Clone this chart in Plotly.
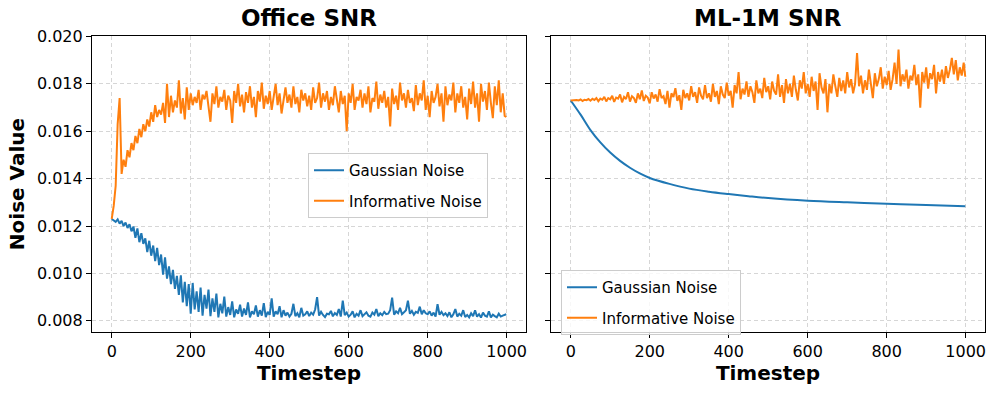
import plotly.graph_objects as go
from plotly.subplots import make_subplots

# timesteps sampled every 5 steps, plus the last one
timesteps = list(range(0, 1000, 5)) + [999]

office_gaussian = [
    0.01230, 0.01225, 0.01218, 0.01228, 0.01210, 0.01222, 0.01200, 0.01215, 0.01192, 0.01208,
    0.01178, 0.01198, 0.01150, 0.01190, 0.01132, 0.01170, 0.01125, 0.01148, 0.01090, 0.01138,
    0.01075, 0.01118, 0.01052, 0.01108, 0.01035, 0.01080, 0.00995, 0.01068, 0.00978, 0.01030,
    0.00955, 0.01015, 0.00935, 0.00990, 0.00910, 0.00992, 0.00878, 0.00965, 0.00862, 0.00955,
    0.00830, 0.00960, 0.00848, 0.00925, 0.00838, 0.00940, 0.00822, 0.00910, 0.00852, 0.00932,
    0.00820, 0.00895, 0.00838, 0.00915, 0.00815, 0.00872, 0.00832, 0.00902, 0.00818, 0.00858,
    0.00825, 0.00882, 0.00815, 0.00848, 0.00830, 0.00868, 0.00818, 0.00852, 0.00825, 0.00878,
    0.00815, 0.00840, 0.00828, 0.00865, 0.00818, 0.00845, 0.00822, 0.00875, 0.00816, 0.00838,
    0.00825, 0.00895, 0.00818, 0.00840, 0.00828, 0.00862, 0.00815, 0.00845, 0.00822, 0.00835,
    0.00818, 0.00830, 0.00872, 0.00820, 0.00832, 0.00815, 0.00855, 0.00822, 0.00828, 0.00840,
    0.00820, 0.00835, 0.00826, 0.00848, 0.00900, 0.00822, 0.00838, 0.00825, 0.00816, 0.00830,
    0.00828, 0.00842, 0.00819, 0.00833, 0.00825, 0.00850, 0.00818, 0.00885, 0.00824, 0.00835,
    0.00818, 0.00826, 0.00840, 0.00815, 0.00830, 0.00822, 0.00845, 0.00820, 0.00828, 0.00836,
    0.00822, 0.00818, 0.00835, 0.00826, 0.00850, 0.00820, 0.00832, 0.00824, 0.00838, 0.00828,
    0.00830, 0.00845, 0.00898, 0.00826, 0.00840, 0.00832, 0.00855, 0.00828, 0.00836, 0.00845,
    0.00885, 0.00830, 0.00842, 0.00826, 0.00838, 0.00834, 0.00860, 0.00828, 0.00845, 0.00832,
    0.00828, 0.00840, 0.00822, 0.00835, 0.00818, 0.00870, 0.00826, 0.00838, 0.00824, 0.00832,
    0.00820, 0.00836, 0.00815, 0.00828, 0.00850, 0.00818, 0.00830, 0.00822, 0.00845, 0.00816,
    0.00825, 0.00815, 0.00832, 0.00820, 0.00845, 0.00818, 0.00828, 0.00814, 0.00835, 0.00822,
    0.00818, 0.00840, 0.00815, 0.00826, 0.00820, 0.00815, 0.00830, 0.00818, 0.00822, 0.00826,
    0.00828,
]

office_informative = [
    0.01230, 0.01285, 0.01370, 0.01630, 0.01740, 0.01420, 0.01480, 0.01450, 0.01520, 0.01490,
    0.01550, 0.01520, 0.01580, 0.01550, 0.01610, 0.01575, 0.01630, 0.01600, 0.01650, 0.01620,
    0.01680, 0.01640, 0.01710, 0.01660, 0.01690, 0.01670, 0.01720, 0.01635, 0.01800, 0.01660,
    0.01750, 0.01680, 0.01730, 0.01700, 0.01815, 0.01675, 0.01740, 0.01650, 0.01785, 0.01690,
    0.01760, 0.01710, 0.01745, 0.01720, 0.01775, 0.01690, 0.01755, 0.01735, 0.01770, 0.01705,
    0.01640, 0.01760, 0.01715, 0.01790, 0.01700, 0.01745, 0.01725, 0.01775, 0.01690, 0.01750,
    0.01730, 0.01635, 0.01770, 0.01720, 0.01800, 0.01705, 0.01755, 0.01680, 0.01765, 0.01720,
    0.01790, 0.01700, 0.01745, 0.01660, 0.01770, 0.01725, 0.01805, 0.01695, 0.01750, 0.01715,
    0.01770, 0.01690, 0.01745, 0.01800, 0.01710, 0.01760, 0.01675, 0.01740, 0.01785, 0.01720,
    0.01755, 0.01700, 0.01790, 0.01715, 0.01745, 0.01680, 0.01775, 0.01730, 0.01760, 0.01705,
    0.01750, 0.01690, 0.01785, 0.01720, 0.01740, 0.01805, 0.01700, 0.01760, 0.01725, 0.01770,
    0.01690, 0.01745, 0.01710, 0.01790, 0.01730, 0.01680, 0.01770, 0.01715, 0.01750, 0.01600,
    0.01760, 0.01720, 0.01800, 0.01690, 0.01745, 0.01730, 0.01775, 0.01700, 0.01760, 0.01715,
    0.01790, 0.01680, 0.01740, 0.01725, 0.01810, 0.01695, 0.01755, 0.01720, 0.01770, 0.01700,
    0.01745, 0.01620, 0.01780, 0.01715, 0.01750, 0.01690, 0.01805, 0.01730, 0.01760, 0.01700,
    0.01775, 0.01720, 0.01740, 0.01685, 0.01795, 0.01710, 0.01760, 0.01730, 0.01815, 0.01690,
    0.01750, 0.01660, 0.01770, 0.01720, 0.01745, 0.01800, 0.01705, 0.01760, 0.01640, 0.01790,
    0.01710, 0.01755, 0.01730, 0.01805, 0.01680, 0.01760, 0.01720, 0.01790, 0.01700, 0.01745,
    0.01650, 0.01780, 0.01715, 0.01810, 0.01700, 0.01760, 0.01640, 0.01800, 0.01725, 0.01770,
    0.01690, 0.01805, 0.01720, 0.01655, 0.01790, 0.01710, 0.01815, 0.01680, 0.01760, 0.01665,
    0.01660,
]

ml_informative = [
    0.01730, 0.01731, 0.01729, 0.01732, 0.01730, 0.01734, 0.01728, 0.01733, 0.01731, 0.01736,
    0.01729, 0.01737, 0.01732, 0.01740, 0.01727, 0.01738, 0.01733, 0.01745, 0.01726, 0.01740,
    0.01735, 0.01750, 0.01724, 0.01742, 0.01738, 0.01755, 0.01722, 0.01745, 0.01736, 0.01765,
    0.01725, 0.01748, 0.01740, 0.01720, 0.01760, 0.01735, 0.01772, 0.01728, 0.01750, 0.01742,
    0.01718, 0.01765, 0.01738, 0.01755, 0.01725, 0.01778, 0.01740, 0.01748, 0.01715, 0.01770,
    0.01700, 0.01760, 0.01745, 0.01782, 0.01728, 0.01752, 0.01690, 0.01775, 0.01740, 0.01760,
    0.01730, 0.01790, 0.01745, 0.01765, 0.01720, 0.01785, 0.01750, 0.01735, 0.01795, 0.01740,
    0.01760, 0.01725, 0.01800, 0.01745, 0.01770, 0.01715, 0.01790, 0.01755, 0.01740, 0.01805,
    0.01750, 0.01770, 0.01700, 0.01795, 0.01760, 0.01850, 0.01735, 0.01780, 0.01755, 0.01810,
    0.01745, 0.01790, 0.01765, 0.01720, 0.01815, 0.01760, 0.01780, 0.01740, 0.01825, 0.01765,
    0.01790, 0.01735, 0.01810, 0.01770, 0.01755, 0.01840, 0.01745, 0.01795, 0.01720, 0.01820,
    0.01760, 0.01800, 0.01745, 0.01835, 0.01775, 0.01730, 0.01815, 0.01780, 0.01850, 0.01760,
    0.01800, 0.01745, 0.01830, 0.01770, 0.01810, 0.01690, 0.01845, 0.01785, 0.01760, 0.01820,
    0.01680, 0.01800, 0.01760, 0.01840, 0.01790, 0.01745, 0.01825, 0.01770, 0.01815, 0.01760,
    0.01850, 0.01785, 0.01820, 0.01760, 0.01800, 0.01930, 0.01790, 0.01835, 0.01760, 0.01815,
    0.01775, 0.01860, 0.01800, 0.01740, 0.01845, 0.01790, 0.01820, 0.01870, 0.01780, 0.01830,
    0.01795, 0.01855, 0.01775, 0.01820, 0.01890, 0.01800, 0.01945, 0.01790, 0.01840, 0.01810,
    0.01860, 0.01780, 0.01835, 0.01815, 0.01880, 0.01795, 0.01840, 0.01700, 0.01850, 0.01805,
    0.01870, 0.01780, 0.01845, 0.01820, 0.01880, 0.01760, 0.01850, 0.01810, 0.01860, 0.01800,
    0.01875, 0.01825, 0.01860, 0.01910, 0.01840, 0.01900, 0.01815, 0.01870, 0.01835, 0.01890,
    0.01830,
]

# the ML-1M gaussian curve is smooth, so fewer read-off points are enough
ml_gaussian_steps = [0, 25, 50, 75, 100, 125, 150, 175, 200, 250, 300, 350, 400,
                     450, 500, 600, 700, 800, 900, 999]
ml_gaussian = [0.01730, 0.01670, 0.01605, 0.01553, 0.01510, 0.01475, 0.01446, 0.01422,
               0.01403, 0.01378, 0.01358, 0.01345, 0.01335, 0.01326, 0.01318, 0.01307,
               0.01300, 0.01294, 0.01289, 0.01284]

titles = ["Office SNR", "ML-1M SNR"]
x_ticks = [0, 200, 400, 600, 800, 1000]
y_ticks = [0.008, 0.010, 0.012, 0.014, 0.016, 0.018, 0.020]

BLUE = "#1f77b4"
ORANGE = "#ff7f0e"
FONT = "DejaVu Sans"
W, H = 997, 394

fig = make_subplots(rows=1, cols=2, shared_yaxes=True)

fig.add_trace(go.Scatter(x=timesteps, y=office_gaussian, mode="lines", name="Gaussian Noise",
                         line=dict(color=BLUE, width=2), legend="legend", legendgroup="g1"), row=1, col=1)
fig.add_trace(go.Scatter(x=timesteps, y=office_informative, mode="lines", name="Informative Noise",
                         line=dict(color=ORANGE, width=2), legend="legend", legendgroup="i1"), row=1, col=1)
fig.add_trace(go.Scatter(x=ml_gaussian_steps, y=ml_gaussian, mode="lines", name="Gaussian Noise",
                         line=dict(color=BLUE, width=2, shape="spline"), legend="legend2",
                         legendgroup="g2"), row=1, col=2)
fig.add_trace(go.Scatter(x=timesteps, y=ml_informative, mode="lines", name="Informative Noise",
                         line=dict(color=ORANGE, width=2), legend="legend2", legendgroup="i2"), row=1, col=2)

axis_common = dict(showline=True, linecolor="black", linewidth=1.2, mirror=True,
                   ticks="outside", ticklen=5, tickwidth=1, tickcolor="black",
                   showgrid=True, gridcolor="#d6d6d6", griddash="4px,3px", gridwidth=1,
                   zeroline=False, automargin=False,
                   tickfont=dict(family=FONT, size=16, color="black"))

x_domains = [[92 / W, 526 / W], [551 / W, 985 / W]]
y_domain = [1 - 332 / H, 1 - 36 / H]

for i in range(2):
    fig.update_xaxes(axis_common, range=[-49.95, 1048.95], tickvals=x_ticks,
                     domain=x_domains[i], row=1, col=i + 1,
                     title=dict(text="<b>Timestep</b>", font=dict(family=FONT, size=20, color="black"),
                                standoff=2))
    fig.update_yaxes(axis_common, range=[0.00753, 0.02002], tickvals=y_ticks,
                     tickformat=".3f", domain=y_domain, row=1, col=i + 1)

fig.update_yaxes(title=dict(text="<b>Noise Value</b>", font=dict(family=FONT, size=20, color="black"),
                            standoff=6), row=1, col=1)
fig.update_yaxes(showticklabels=False, row=1, col=2)

for i, t in enumerate(titles):
    fig.add_annotation(text="<b>%s</b>" % t, x=sum(x_domains[i]) / 2, y=1 - 18 / H,
                       xref="paper", yref="paper", showarrow=False, xanchor="center", yanchor="middle",
                       font=dict(family=FONT, size=23, color="black"))

legend_style = dict(font=dict(family=FONT, size=15, color="black"), bgcolor="rgba(255,255,255,0.8)",
                    bordercolor="#cccccc", borderwidth=1, xanchor="left", yanchor="top",
                    itemwidth=30, tracegroupgap=8, entrywidth=170, entrywidthmode="pixels")

fig.update_layout(
    width=W, height=H,
    margin=dict(l=0, r=0, t=0, b=0),
    plot_bgcolor="white", paper_bgcolor="white",
    font=dict(family=FONT, color="black"),
    legend=dict(legend_style, x=308 / W, y=1 - 153 / H),
    legend2=dict(legend_style, x=561 / W, y=1 - 270 / H),
)

# drop the default page margin so the figure sits at the window's corner
fig.write_html("out.html", config={"displayModeBar": False},
               post_script="document.body.style.margin='0px';")
